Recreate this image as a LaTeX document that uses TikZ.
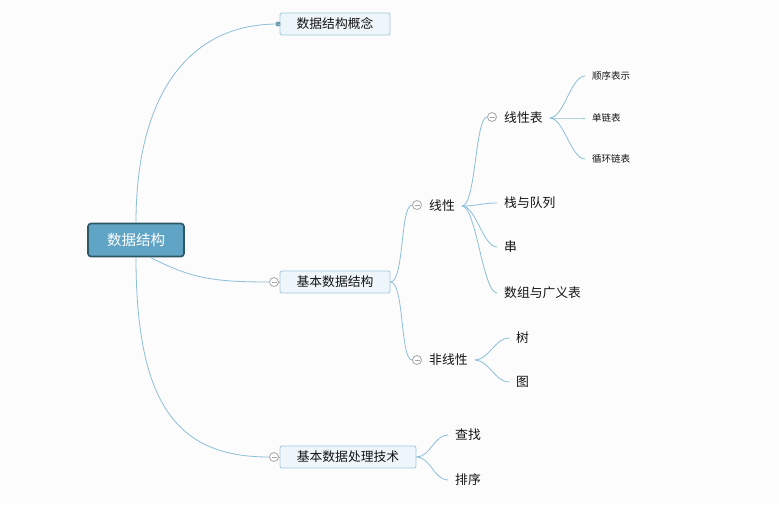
\documentclass[tikz,border=0pt]{standalone}
\usepackage{fontspec}
\setmainfont{Noto Sans CJK SC}
\definecolor{bg}{RGB}{252,252,253}
\definecolor{linec}{RGB}{140,190,214}
\definecolor{boxfill}{RGB}{238,245,251}
\definecolor{boxdraw}{RGB}{160,200,224}
\definecolor{rootfill}{RGB}{96,164,197}
\definecolor{rootdraw}{RGB}{45,85,102}
\definecolor{txt}{RGB}{20,20,20}
\definecolor{kgray}{RGB}{165,165,165}
\begin{document}
\begin{tikzpicture}[x=1pt,y=-1pt,
  conn/.style={draw=linec, line width=0.8pt},
  rootbox/.style={rectangle, rounded corners=3pt, fill=rootfill, draw=rootdraw, line width=1.6pt,
    minimum width=96pt, minimum height=33pt, text=white, font=\fontsize{14.5}{16}\selectfont},
  subbox/.style={rectangle, rounded corners=2pt, fill=boxfill, draw=boxdraw, line width=0.8pt,
    minimum height=22pt, text=txt, font=\fontsize{12.8}{14}\selectfont},
  collapse/.style={circle, draw=kgray, fill=white, line width=0.8pt, minimum size=9pt, inner sep=0pt,
    path picture={\draw[kgray, line width=0.8pt] ([xshift=-2.5pt]path picture bounding box.center) -- ([xshift=2.5pt]path picture bounding box.center);}},
  dotn/.style={circle, fill=linec!80!black, minimum size=5pt, inner sep=0pt},
  leaf/.style={anchor=west, inner xsep=7pt, inner ysep=2pt, text=txt, font=\fontsize{12.8}{14}\selectfont},
  small/.style={leaf, font=\fontsize{9.5}{11}\selectfont},
]
\fill[bg] (0,0) rectangle (779,504);
\useasboundingbox (0,0) rectangle (779,504);

% main nodes
\node[rootbox] (root) at (136,240) {数据结构};
\node[subbox, minimum width=110pt] (c1) at (335,24) {数据结构概念};
\node[subbox, minimum width=110pt] (c2) at (335,282) {基本数据结构};
\node[subbox, minimum width=136pt] (c3) at (348,457) {基本数据处理技术};

\node[dotn] (d1) at (278,24) {};
\node[collapse] (k2) at (274,282) {};
\node[collapse] (k3) at (274,457) {};

% level 2
\node[collapse] (kl) at (417,205) {};
\node[leaf] (lin) at (422,206) {线性};
\node[collapse] (kn) at (417,360) {};
\node[leaf] (nlin) at (422,360) {非线性};

% level 3 linear
\node[collapse] (kb) at (492,117) {};
\node[leaf] (linb) at (497,118) {线性表};
\node[leaf] (zhan) at (497,203) {栈与队列};
\node[leaf] (chuan) at (497,247) {串};
\node[leaf] (shuzu) at (497,293) {数组与广义表};

% level 4
\node[small] (shunxu) at (585,76) {顺序表示};
\node[small] (danlian) at (585,118) {单链表};
\node[small] (xunhuan) at (585,159) {循环链表};

% nonlinear
\node[leaf] (shu) at (509,338) {树};
\node[leaf] (tu) at (509,382) {图};

% processing
\node[leaf] (cha) at (448,435) {查找};
\node[leaf] (pai) at (448,480) {排序};

% connectors
\draw[conn] (root.north) .. controls +(0,-120) and +(-95,0) .. (d1.center);
\draw[conn] (d1.center) -- (c1.west);
\draw[conn] ([xshift=14pt]root.south) .. controls +(40,20) and +(-60,0) .. (k2.west);
\draw[conn] (k2.east) -- (c2.west);
\draw[conn] (root.south) .. controls +(0,150) and +(-90,0) .. (k3.west);
\draw[conn] (k3.east) -- (c3.west);

\draw[conn] (c2.east) .. controls +(14,0) and +(-12,0) .. (kl.west);
\draw[conn] (c2.east) .. controls +(14,0) and +(-12,0) .. (kn.west);

\draw[conn] (lin.east) .. controls +(14,0) and +(-12,0) .. (kb.west);
\draw[conn] (lin.east) .. controls +(14,0) and +(-14,0) .. (zhan.west);
\draw[conn] (lin.east) .. controls +(14,0) and +(-14,0) .. (chuan.west);
\draw[conn] (lin.east) .. controls +(14,0) and +(-14,0) .. (shuzu.west);

\draw[conn] (linb.east) .. controls +(14,0) and +(-14,0) .. (shunxu.west);
\draw[conn] (linb.east) .. controls +(14,0) and +(-14,0) .. (danlian.west);
\draw[conn] (linb.east) .. controls +(14,0) and +(-14,0) .. (xunhuan.west);

\draw[conn] (nlin.east) .. controls +(14,0) and +(-14,0) .. (shu.west);
\draw[conn] (nlin.east) .. controls +(14,0) and +(-14,0) .. (tu.west);

\draw[conn] (c3.east) .. controls +(14,0) and +(-14,0) .. (cha.west);
\draw[conn] (c3.east) .. controls +(14,0) and +(-14,0) .. (pai.west);
\end{tikzpicture}
\end{document}
